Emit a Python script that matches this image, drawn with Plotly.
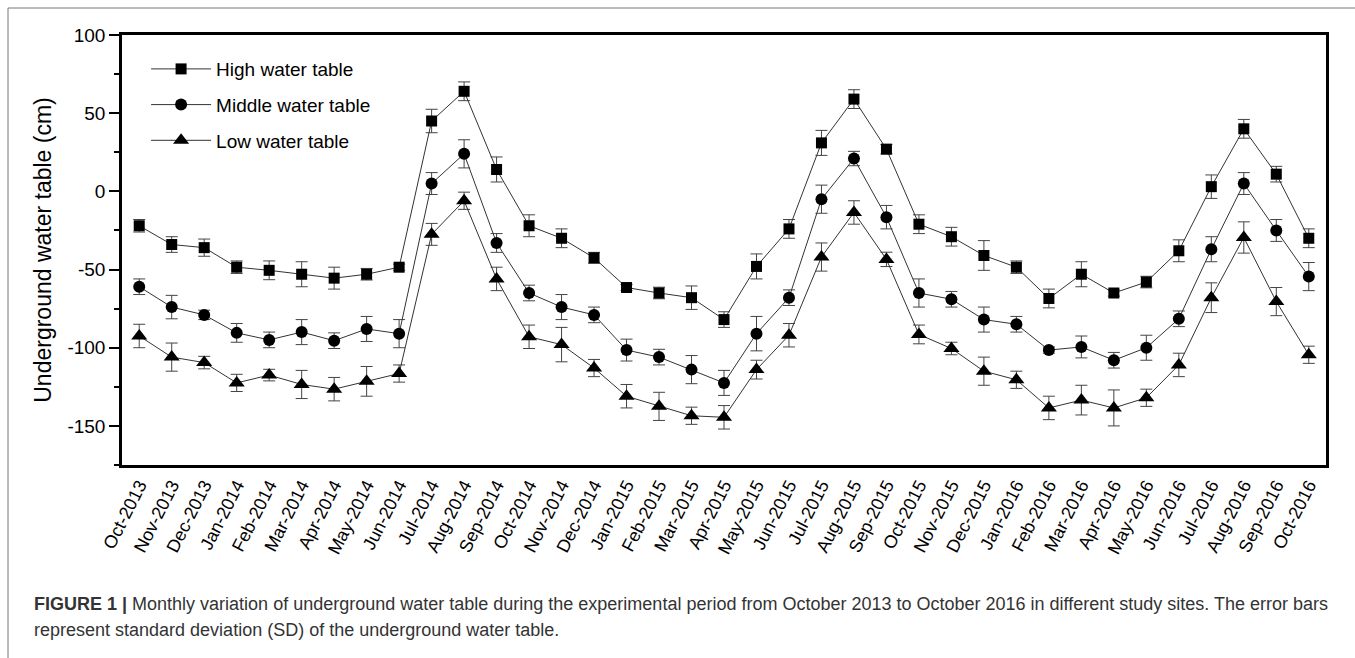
import plotly.graph_objects as go

# Monthly sampling dates, Oct-2013 .. Oct-2016
months = ["Oct-2013", "Nov-2013", "Dec-2013", "Jan-2014", "Feb-2014", "Mar-2014",
          "Apr-2014", "May-2014", "Jun-2014", "Jul-2014", "Aug-2014", "Sep-2014",
          "Oct-2014", "Nov-2014", "Dec-2014", "Jan-2015", "Feb-2015", "Mar-2015",
          "Apr-2015", "May-2015", "Jun-2015", "Jul-2015", "Aug-2015", "Sep-2015",
          "Oct-2015", "Nov-2015", "Dec-2015", "Jan-2016", "Feb-2016", "Mar-2016",
          "Apr-2016", "May-2016", "Jun-2016", "Jul-2016", "Aug-2016", "Sep-2016",
          "Oct-2016"]

# Mean underground water table (cm) per site
high = [-22, -34, -36, -48.5, -50.5, -53, -55.5, -53, -48.5, 45, 64, 14,
        -22, -30, -42.5, -61.5, -65, -68, -82, -48, -24, 31, 59, 27,
        -21, -29, -41, -48.5, -68.5, -53, -65, -58, -38, 3, 40, 11, -30]
middle = [-61, -74, -79, -90.5, -95, -90, -95.5, -88, -91, 5, 24, -33,
          -65, -74, -79, -101.5, -106, -114, -122.5, -91, -68, -5, 21, -16.5,
          -65, -69, -82, -85, -101.5, -99.5, -108, -100, -81.5, -37, 5, -25, -54.5]
low = [-92.5, -106, -109.5, -122.5, -117.5, -123.5, -126.5, -121.5, -116.5, -27.5, -6, -56,
       -93, -98, -113, -131, -137.5, -143.5, -144.5, -114, -92, -42, -13.5, -43.5,
       -91.5, -100.5, -115, -120.5, -138.5, -133.5, -138.5, -132, -111, -68, -29.5, -70.5, -104.5]

# Standard deviations (cm)
high_sd = [4, 5, 5.5, 4, 6, 8, 7, 3.7, 2, 7.5, 6, 8,
           7, 6, 3.5, 2, 3.7, 7.5, 5, 8, 6, 8, 6, 3,
           6, 6, 9.5, 4, 6, 8, 2, 3.7, 7, 7.5, 6, 5, 6]
middle_sd = [5, 7.5, 3, 6, 5, 8, 5, 8, 9, 7, 9, 6,
             5, 8, 5, 7, 5, 9, 8, 11, 5, 9, 4.6, 7.5,
             9, 5, 8, 5, 2, 7, 5, 8, 5, 8, 7, 7, 9]
low_sd = [7.5, 9, 4, 5.5, 3.7, 9, 7.5, 9.5, 5.5, 7, 5.5, 7.5,
          7.5, 11, 5.5, 7.5, 9, 5.5, 7.5, 6, 7.5, 9, 7.5, 4.6,
          6, 4, 9, 5.5, 7.5, 9.5, 11.5, 5.5, 7.5, 9.5, 10, 9, 5.5]

# Y-axis labels (plain hyphen minus)
y_ticks = [-150, -100, -50, 0, 50, 100]
y_tick_text = ["-150", "-100", "-50", "0", "50", "100"]

x = list(range(len(months)))

series = [
    ("High water table", high, high_sd, "square", 11),
    ("Middle water table", middle, middle_sd, "circle", 12),
    ("Low water table", low, low_sd, "triangle-up", 14),
]

fig = go.Figure()
for i, (name, vals, sd, sym, size) in enumerate(series):
    fig.add_trace(go.Scatter(
        x=x, y=vals, name=name, mode="lines+markers",
        legendgroup=f"g{i}",
        line=dict(color="#333333", width=1),
        marker=dict(symbol=sym, size=size, color="black"),
        error_y=dict(type="data", array=sd, visible=True,
                     color="#444444", thickness=1, width=6),
    ))

# Outer figure frame (top and left edges)
frame = dict(type="line", xref="paper", yref="paper",
             line=dict(color="#777777", width=1))
fig.add_shape(**frame, x0=(8 - 122) / 1204, x1=(1355 - 122) / 1204,
              y0=(465 - 8) / 430, y1=(465 - 8) / 430)
fig.add_shape(**frame, x0=(8 - 122) / 1204, x1=(8 - 122) / 1204,
              y0=(465 - 8) / 430, y1=(465 - 660) / 430)

caption_font = dict(family="Arial, Liberation Sans, sans-serif", size=18, color="#333333")
fig.add_annotation(
    xref="paper", yref="paper", x=(32 - 122) / 1204, y=(465 - 604) / 430,
    xanchor="left", yanchor="middle", showarrow=False, font=caption_font,
    text="<b>FIGURE 1 |</b> Monthly variation of underground water table during the "
         "experimental period from October 2013 to October 2016 in different study sites. "
         "The error bars")
fig.add_annotation(
    xref="paper", yref="paper", x=(32 - 122) / 1204, y=(465 - 630) / 430,
    xanchor="left", yanchor="middle", showarrow=False, font=caption_font,
    text="represent standard deviation (SD) of the underground water table.")

fig.update_layout(
    width=1355, height=658,
    margin=dict(l=122, r=29, t=35, b=193),
    paper_bgcolor="white", plot_bgcolor="white",
    font=dict(family="Arial, Liberation Sans, sans-serif", color="black"),
    legend=dict(x=0.02, y=0.965, xanchor="left", yanchor="top",
                font=dict(size=19), bgcolor="rgba(0,0,0,0)",
                itemwidth=60, tracegroupgap=8),
    showlegend=True,
)
fig.update_xaxes(
    range=[-0.53, 36.53], tickmode="array", tickvals=x, ticktext=months,
    tickangle=-63, tickfont=dict(size=18), ticks="",
    showgrid=False, zeroline=False,
    showline=True, linecolor="black", linewidth=2.5, mirror=True,
)
fig.update_yaxes(
    range=[-175, 100], tickmode="array", tickvals=y_ticks, ticktext=y_tick_text,
    ticks="outside", ticklen=10, tickwidth=1.5, tickcolor="black",
    minor=dict(tickmode="linear", dtick=25, tick0=0, ticks="outside",
               ticklen=5, tickwidth=1.5, tickcolor="black"),
    tickfont=dict(size=19),
    title=dict(text="Underground water table (cm)", font=dict(size=23), standoff=10),
    showgrid=False, zeroline=False,
    showline=True, linecolor="black", linewidth=2.5, mirror=True,
)

fig.write_html("out.html")
